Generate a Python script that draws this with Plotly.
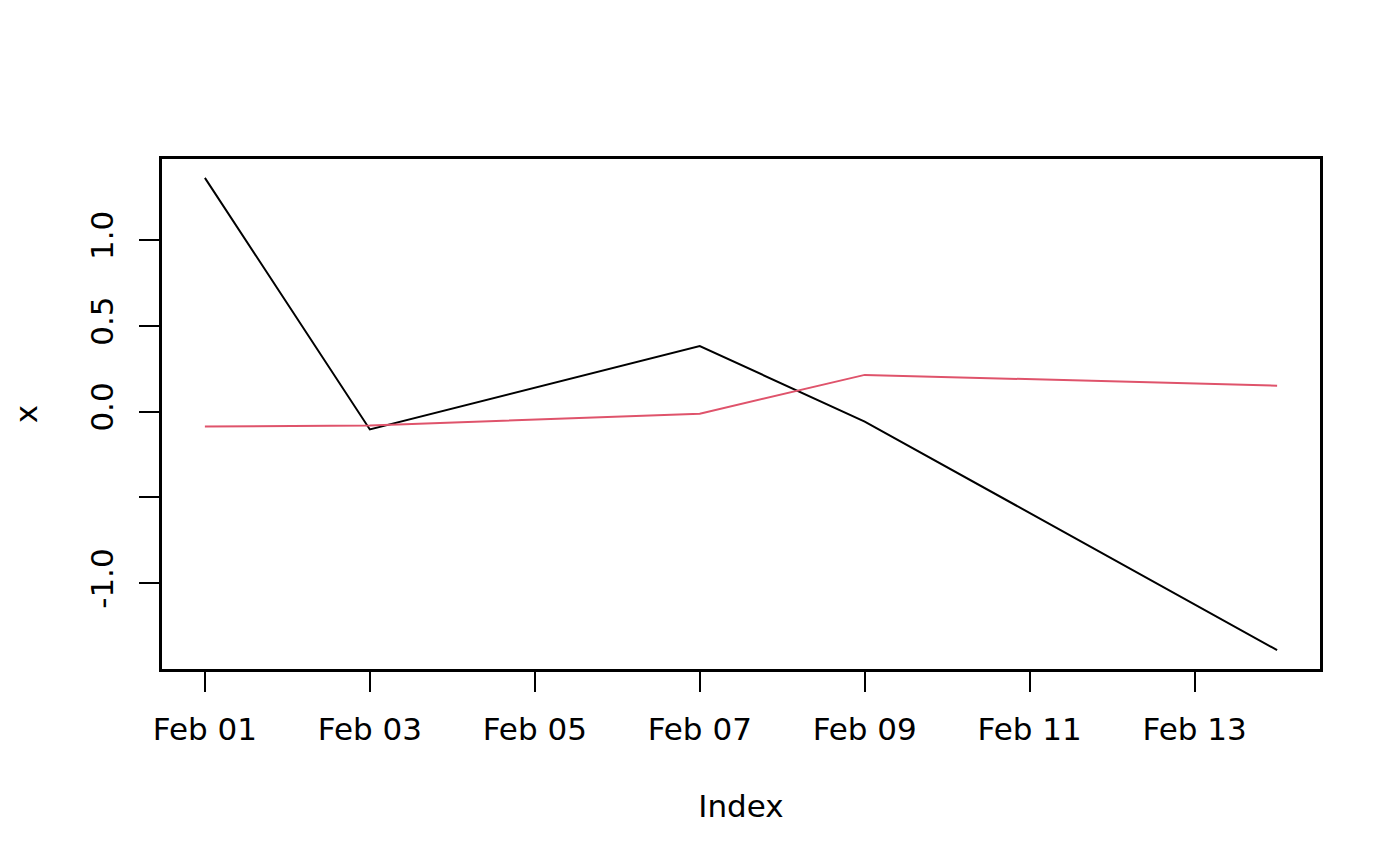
import plotly.graph_objects as go
import pandas as pd

dates = ["2024-02-01", "2024-02-03", "2024-02-07", "2024-02-09", "2024-02-14"]
series_a = [1.362, -0.104, 0.382, -0.058, -1.39]
series_b = [-0.087, -0.081, -0.012, 0.214, 0.151]

tick_dates = ["2024-02-01", "2024-02-03", "2024-02-05", "2024-02-07",
              "2024-02-09", "2024-02-11", "2024-02-13"]
tick_text = ["Feb 01", "Feb 03", "Feb 05", "Feb 07", "Feb 09", "Feb 11", "Feb 13"]
y_ticks = [-1.0, -0.5, 0.0, 0.5, 1.0]
y_text = ["-1.0", "", "0.0", "0.5", "1.0"]

# R-style 4% padding
d = pd.to_datetime(dates)
span = d.max() - d.min()
x_range = [d.min() - span * 0.04, d.max() + span * 0.04]
lo = min(series_a + series_b)
hi = max(series_a + series_b)
y_range = [lo - (hi - lo) * 0.04, hi + (hi - lo) * 0.04]

fig = go.Figure()
fig.add_trace(go.Scatter(x=dates, y=series_a, mode="lines",
                         line=dict(color="black", width=2)))
fig.add_trace(go.Scatter(x=dates, y=series_b, mode="lines",
                         line=dict(color="#DF536B", width=2)))

axis_font = dict(family="DejaVu Sans", size=31, color="black")
# page body has an 8px margin, so the figure is 16px smaller than the window
fig.update_layout(
    width=1384, height=850,
    paper_bgcolor="white", plot_bgcolor="white",
    showlegend=False,
    margin=dict(l=147, r=72, t=151, b=189),
    font=axis_font,
    xaxis=dict(
        type="date", range=x_range,
        tickvals=tick_dates, ticktext=tick_text,
        ticks="outside", ticklen=20, tickwidth=2, tickcolor="black",
        showline=True, linecolor="black", linewidth=2.5, mirror=True,
        showgrid=False, zeroline=False,
        ticklabelstandoff=11,
        title=dict(text="Index", font=axis_font, standoff=50),
    ),
    yaxis=dict(
        range=y_range,
        tickvals=y_ticks, ticktext=y_text, tickangle=-90,
        ticks="outside", ticklen=20, tickwidth=2, tickcolor="black",
        showline=True, linecolor="black", linewidth=2.5, mirror=True,
        showgrid=False, zeroline=False,
        ticklabelstandoff=14,
        title=dict(text="x", font=axis_font, standoff=42),
    ),
)

fig.write_html("out.html")
